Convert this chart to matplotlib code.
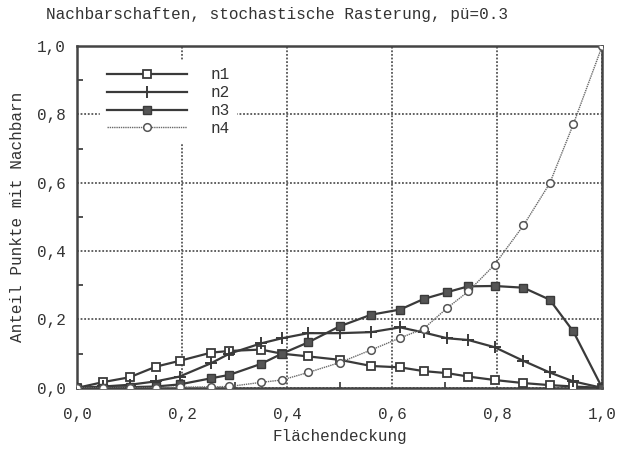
import matplotlib
matplotlib.use("Agg")
import matplotlib.pyplot as plt
from matplotlib.ticker import MultipleLocator, FuncFormatter

# coverage values (x) shared by all series
flaeche = [0.0, 0.05, 0.10, 0.15, 0.195, 0.255, 0.29, 0.35, 0.39, 0.44, 0.50,
           0.56, 0.615, 0.66, 0.705, 0.745, 0.795, 0.85, 0.90, 0.945, 1.0]

n1 = [0.0, 0.017, 0.031, 0.062, 0.079, 0.103, 0.108, 0.112, 0.100, 0.092, 0.082,
      0.064, 0.060, 0.049, 0.043, 0.033, 0.023, 0.014, 0.008, 0.004, 0.0]
n2 = [0.0, 0.004, 0.009, 0.019, 0.033, 0.072, 0.100, 0.130, 0.145, 0.160, 0.160,
      0.163, 0.177, 0.162, 0.145, 0.140, 0.119, 0.079, 0.045, 0.019, 0.0]
n3 = [0.0, 0.001, 0.002, 0.004, 0.010, 0.028, 0.038, 0.070, 0.100, 0.133, 0.180,
      0.214, 0.229, 0.260, 0.280, 0.297, 0.298, 0.293, 0.258, 0.165, 0.0]
n4 = [0.0, 0.0, 0.0, 0.001, 0.002, 0.003, 0.004, 0.016, 0.023, 0.045, 0.074,
      0.111, 0.146, 0.173, 0.234, 0.282, 0.360, 0.475, 0.598, 0.771, 1.0]

labels = ["n1", "n2", "n3", "n4"]

plt.rcParams["font.family"] = ["Liberation Mono", "DejaVu Sans Mono"]

fig = plt.figure(figsize=(6.17, 4.51), dpi=100)
ax = fig.add_axes([0.125, 0.140, 0.851, 0.758])

dark = "#3a3a3a"
txt = "#333333"
ax.plot(flaeche, n1, color=dark, lw=1.6, marker="s", ms=6, mfc="white",
        mec=dark, mew=1.3, label=labels[0], zorder=4)
ax.plot(flaeche, n2, color=dark, lw=1.6, marker="+", ms=9, mew=1.4,
        label=labels[1], zorder=4)
ax.plot(flaeche, n3, color=dark, lw=1.6, marker="s", ms=6, mfc="#555555",
        mec=dark, mew=1.0, label=labels[2], zorder=4)
ax.plot(flaeche, n4, color="#6a6a6a", lw=1.0, ls=(0, (1, 0.6)), marker="o", ms=5.5,
        mfc="white", mec="#555555", mew=1.1, label=labels[3], zorder=4)

ax.set_xlim(0, 1)
ax.set_ylim(0, 1)
ax.xaxis.set_major_locator(MultipleLocator(0.2))
ax.yaxis.set_major_locator(MultipleLocator(0.2))
ax.xaxis.set_minor_locator(MultipleLocator(0.1))
ax.yaxis.set_minor_locator(MultipleLocator(0.1))
komma = FuncFormatter(lambda v, p: f"{v:.1f}".replace(".", ","))
ax.xaxis.set_major_formatter(komma)
ax.yaxis.set_major_formatter(komma)
ax.tick_params(which="both", direction="in", labelsize=11.5, colors=txt)
ax.tick_params(which="major", length=0)
ax.tick_params(which="minor", length=4, width=1.2)
ax.tick_params(axis="x", which="major", pad=14)
ax.tick_params(axis="y", which="major", pad=8)

ax.grid(True, which="major", color="#555555", lw=1.3, ls=(0, (1, 1)), zorder=1)
for s in ax.spines.values():
    s.set_color("#444444")
    s.set_linewidth(1.8)

fig.text(277 / 617, 1 - 14 / 451, "Nachbarschaften, stochastische Rasterung, pü=0.3",
         ha="center", va="center", fontsize=11.5, color=txt)
ax.set_xlabel("Flächendeckung", fontsize=11.5, color=txt, labelpad=5)
ax.set_ylabel("Anteil Punkte mit Nachbarn", fontsize=11.5, color=txt,
              labelpad=9)

leg = ax.legend(loc="upper left", bbox_to_anchor=(0.035, 0.97), frameon=True,
                handlelength=5.0, handletextpad=1.5, labelspacing=0.18,
                fontsize=11.5, borderaxespad=0.3)
leg.get_frame().set_edgecolor("white")
leg.get_frame().set_facecolor("white")
leg.get_frame().set_alpha(1.0)
for t in leg.get_texts():
    t.set_color(txt)

fig.savefig("out.png", dpi=100)
